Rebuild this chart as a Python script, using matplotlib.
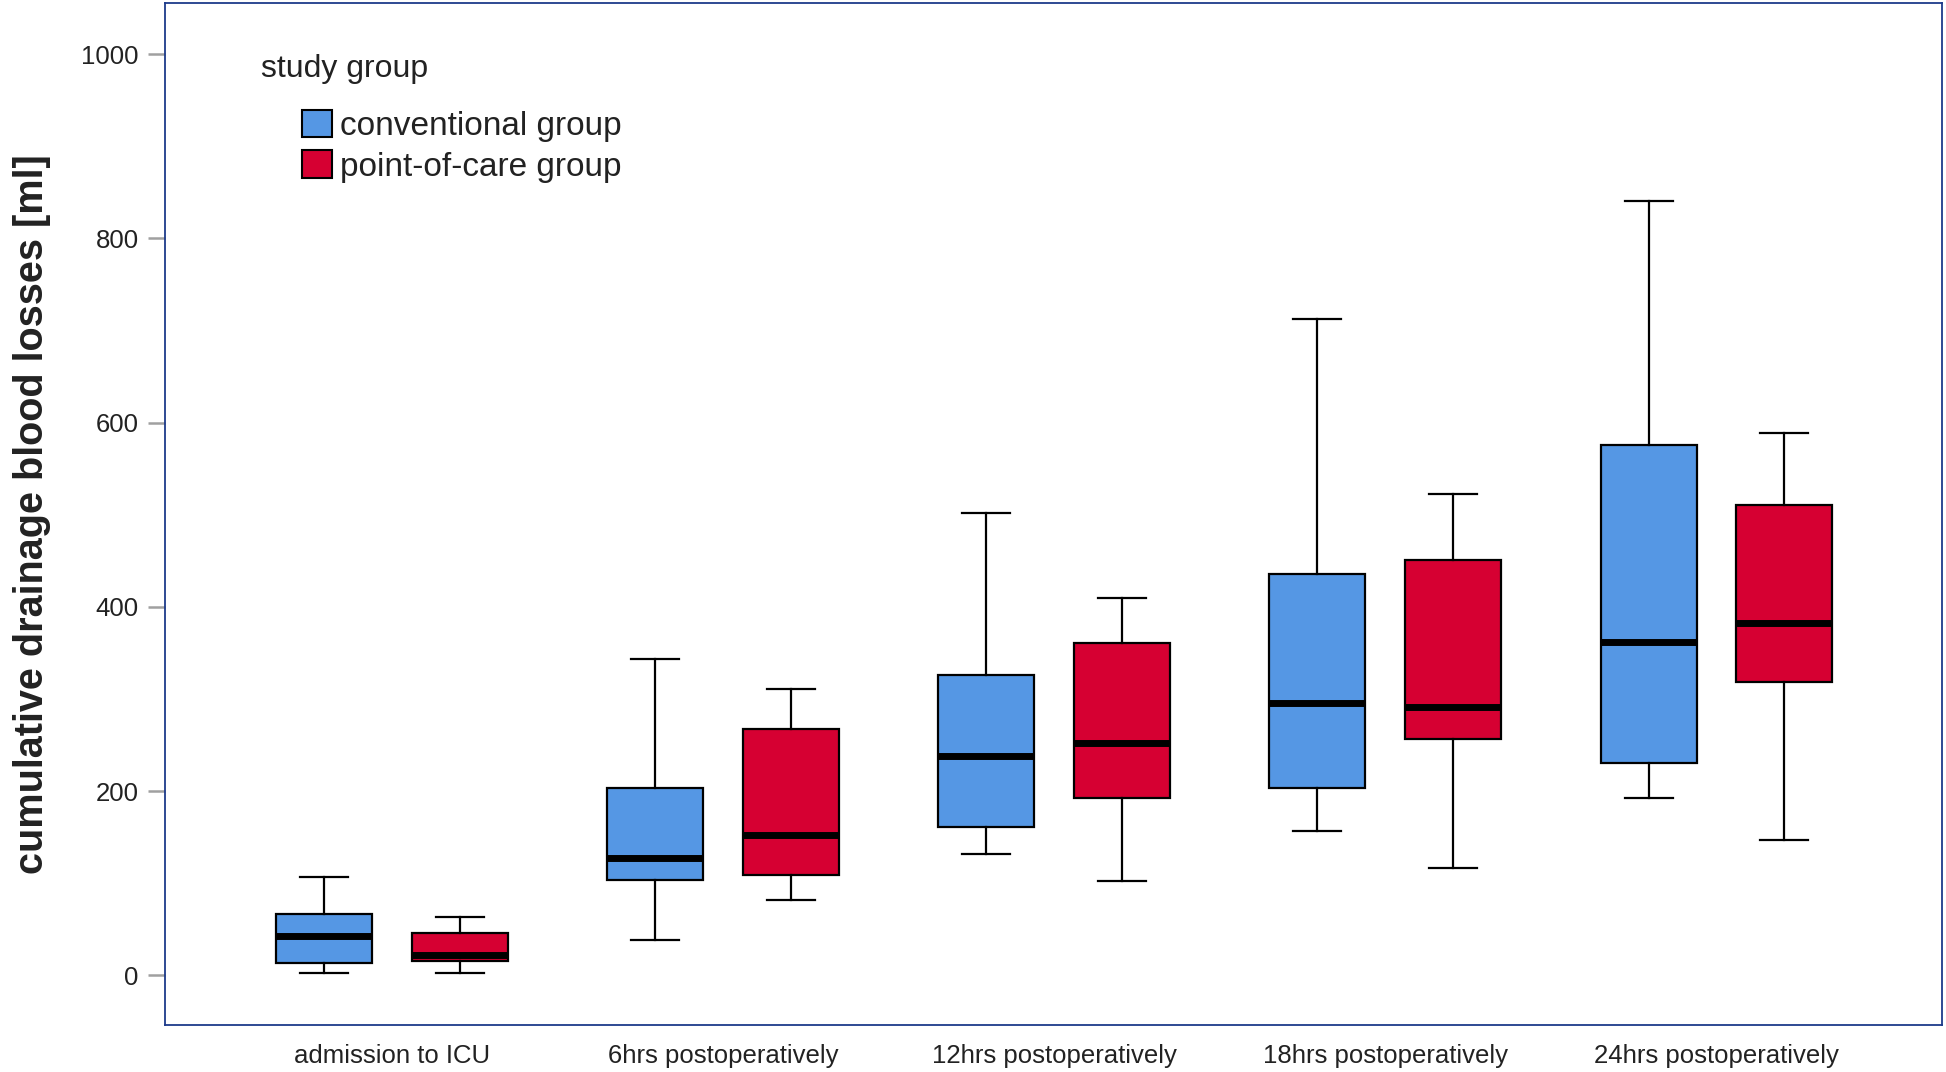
import matplotlib.pyplot as plt
from matplotlib.patches import Patch
import numpy as np

plt.rcParams['font.family'] = ['Liberation Sans', 'DejaVu Sans']

# time points along the x axis
time_points = ["admission to ICU", "6hrs postoperatively", "12hrs postoperatively",
               "18hrs postoperatively", "24hrs postoperatively"]

# conventional group (whisker low, q1, median, q3, whisker high) in ml
conv_low = [2, 38, 132, 157, 192]
conv_q1 = [13, 103, 161, 203, 231]
conv_med = [43, 127, 238, 296, 362]
conv_q3 = [67, 203, 326, 436, 576]
conv_high = [107, 343, 502, 712, 841]

# point-of-care group
poc_low = [3, 82, 102, 117, 147]
poc_q1 = [15, 109, 192, 257, 318]
poc_med = [22, 152, 252, 291, 382]
poc_q3 = [46, 267, 361, 451, 511]
poc_high = [63, 311, 410, 522, 589]

yticks = [0, 200, 400, 600, 800, 1000]

BLUE = "#5597e4"
RED = "#d60032"
NAVY = "#1c3a8a"
TXT = "#222222"


def make_stats(low, q1, med, q3, high):
    stats = []
    for i in range(len(low)):
        stats.append({'whislo': low[i], 'q1': q1[i], 'med': med[i],
                      'q3': q3[i], 'whishi': high[i], 'fliers': []})
    return stats


fig = plt.figure(figsize=(19.46, 10.72), dpi=100)
ax = fig.add_axes([0.0848, 0.0438, 0.913, 0.953])

x = np.arange(len(time_points))
offset = 0.205
box_w = 0.29

for stats, pos, color in [(make_stats(conv_low, conv_q1, conv_med, conv_q3, conv_high), x - offset, BLUE),
                          (make_stats(poc_low, poc_q1, poc_med, poc_q3, poc_high), x + offset, RED)]:
    ax.bxp(stats, positions=pos, widths=box_w, patch_artist=True, showfliers=False,
           boxprops=dict(facecolor=color, edgecolor='black', linewidth=1.6),
           medianprops=dict(color='black', linewidth=5, solid_capstyle='butt'),
           whiskerprops=dict(color='black', linewidth=1.6),
           capprops=dict(color='black', linewidth=1.6),
           manage_ticks=False)

ax.set_xlim(-0.685, 4.68)
ax.set_ylim(-54, 1055)
ax.set_xticks(x)
ax.set_xticklabels(time_points, fontsize=18.5, color=TXT)
ax.set_yticks(yticks)
ax.set_yticklabels([str(v) for v in yticks], fontsize=18.5, color=TXT)
ax.tick_params(axis='x', length=0, pad=14)
ax.tick_params(axis='y', length=12, width=1.8, color='#a0a0a0', pad=7)

for sp in ax.spines.values():
    sp.set_color(NAVY)
    sp.set_linewidth(1.3)

ax.set_ylabel("cumulative drainage blood losses [ml]", fontsize=28.5, fontweight='bold',
              color=TXT, labelpad=22)

ax.text(0.054, 0.936, "study group", transform=ax.transAxes, fontsize=23,
        color=TXT, va='center', ha='left')
handles = [Patch(facecolor=BLUE, edgecolor='black', linewidth=1.5, label="conventional group"),
           Patch(facecolor=RED, edgecolor='black', linewidth=1.5, label="point-of-care group")]
ax.legend(handles=handles, loc='upper left', bbox_to_anchor=(0.077, 0.896), frameon=False,
          fontsize=24, handlelength=0.9, handleheight=0.9, handletextpad=0.25,
          labelspacing=0.25, borderpad=0, borderaxespad=0, labelcolor=TXT)

fig.savefig("out.png", dpi=100)
